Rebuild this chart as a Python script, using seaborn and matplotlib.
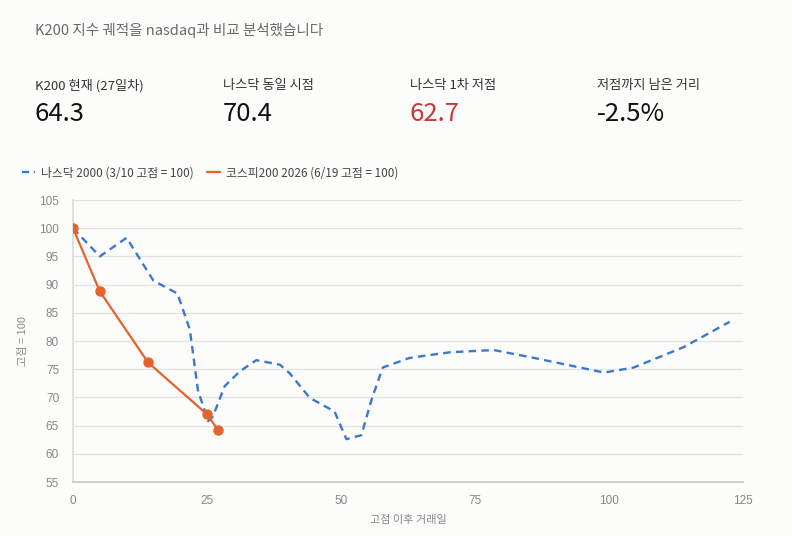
import numpy as np
import pandas as pd
import matplotlib
matplotlib.use('Agg')
import matplotlib.pyplot as plt
from matplotlib.lines import Line2D
import seaborn as sns

# nasdaq 2000 (indexed to 3/10 peak = 100)
nasdaq_day = [0, 5, 10, 15, 19.5, 21.8, 23.3, 25.2, 26.1, 28.3, 31.1, 34.2, 38.6, 40.4,
              44.2, 48.8, 51.0, 53.8, 55.7, 57.8, 62.8, 70.3, 78.5, 86, 99.1, 104.6, 113.9, 122.5]
nasdaq_val = [100, 95.0, 98.3, 90.7, 88.4, 82.0, 71.3, 65.8, 66.6, 72.0, 74.6, 76.6, 75.8, 74.3,
              69.9, 67.5, 62.6, 63.3, 69.6, 75.3, 77.0, 78.0, 78.4, 77.0, 74.4, 75.3, 78.9, 83.4]

# kospi200 2026 (6/19 peak = 100)
kospi_day = [0, 5, 14, 25, 27]
kospi_val = [100, 88.8, 76.2, 67.0, 64.3]

kpi_labels = ['K200 현재 (27일차)', '나스닥 동일 시점', '나스닥 1차 저점', '저점까지 남은 거리']
kpi_values = ['64.3', '70.4', '62.7', '-2.5%']
kpi_colors = ['#111111', '#111111', '#c8383b', '#111111']

series_names = ['나스닥 2000 (3/10 고점 = 100)', '코스피200 2026 (6/19 고점 = 100)']
blue = '#3a78d0'
orange = '#e4622c'
bg = '#fcfcfb'

sns.set_theme(style='white')
plt.rcParams['font.family'] = ['Noto Sans CJK KR', 'DejaVu Sans']
plt.rcParams['axes.unicode_minus'] = False

fig = plt.figure(figsize=(7.92, 5.36), dpi=100, facecolor=bg)
ax = fig.add_axes([73/792, 1-482/536, (743-73)/792, (482-200)/536])
ax.set_facecolor(bg)

nas = pd.DataFrame({'day': nasdaq_day, 'val': nasdaq_val})
kos = pd.DataFrame({'day': kospi_day, 'val': kospi_val})

sns.lineplot(data=nas, x='day', y='val', ax=ax, color=blue, linewidth=1.7,
             linestyle=(0, (3.2, 2.2)), zorder=3)
sns.lineplot(data=kos, x='day', y='val', ax=ax, color=orange, linewidth=1.6,
             marker='o', markersize=7.5, markeredgewidth=0, zorder=4)

ax.set_xlim(0, 125)
ax.set_ylim(55, 105)
ax.set_xticks(range(0, 126, 25))
ax.set_yticks(range(55, 106, 5))
ax.grid(axis='y', color='#e2e2e2', linewidth=0.9)
ax.grid(axis='x', visible=False)
for s in ['top', 'right']:
    ax.spines[s].set_visible(False)
ax.spines['left'].set_color('#dcdcdc')
ax.spines['bottom'].set_color('#c8c8c8')
ax.tick_params(axis='both', colors='#888888', labelsize=8.5, length=0)
for lbl in ax.get_xticklabels() + ax.get_yticklabels():
    lbl.set_family(['Liberation Sans', 'DejaVu Sans'])
ax.tick_params(axis='y', pad=10)
ax.tick_params(axis='x', pad=9)
ax.set_xlabel('고점 이후 거래일', fontsize=8, color='#888888', labelpad=6)
ax.set_ylabel('고점 = 100', fontsize=8, color='#888888', labelpad=8)

# header
fig.text(35/792, 1-30/536, 'K200 지수 궤적을 nasdaq과 비교 분석했습니다',
         fontsize=10.5, color='#6a6a6a', va='center', ha='left')
kpi_x = [35, 223, 410, 597]
for x, lab, val, c in zip(kpi_x, kpi_labels, kpi_values, kpi_colors):
    fig.text(x/792, 1-86/536, lab, fontsize=9.5, color='#333333', va='center', ha='left')
    fig.text(x/792, 1-114/536, val, fontsize=18.5, color=c, va='center', ha='left')

handles = [Line2D([], [], color=blue, linewidth=1.7, linestyle=(0, (3, 2))),
           Line2D([], [], color=orange, linewidth=1.7)]
fig.legend(handles, series_names, loc='center left', bbox_to_anchor=(11/792, 1-173/536),
           ncol=2, frameon=False, fontsize=8.5, handlelength=1.1, handletextpad=0.5,
           columnspacing=1.2, labelcolor='#444444')

fig.savefig('out.png', dpi=100, facecolor=bg)
